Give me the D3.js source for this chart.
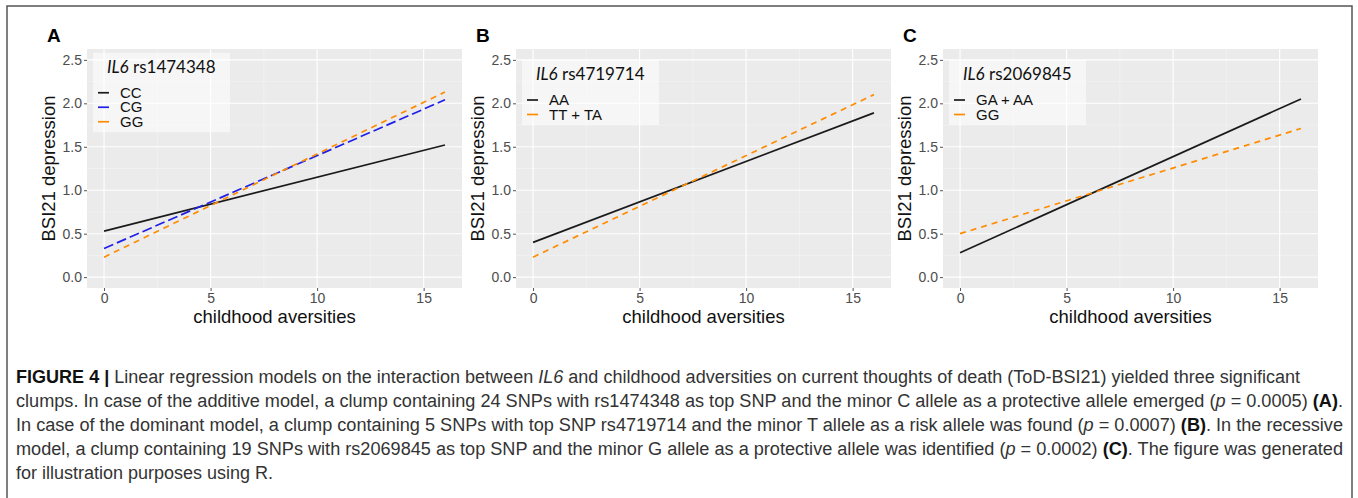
<!DOCTYPE html>
<html>
<head>
<meta charset="utf-8">
<script src="https://cdn.jsdelivr.net/npm/d3@7"></script>
<style>
  body { margin: 0; background: #fff; }
  svg { display: block; }
</style>
</head>
<body>
<svg id="fig" width="1358" height="498"></svg>
<script>
// data
var panelLabels = ["A", "B", "C"]
var snpNames = ["rs1474348", "rs4719714", "rs2069845"]
var xEnds = [0, 16]
var xTicks = [0, 5, 10, 15]
var yTicks = [0, 0.5, 1, 1.5, 2, 2.5]

var groupsA = ["CC", "CG", "GG"]
var startA = [0.53, 0.33, 0.23]
var endA = [1.52, 2.04, 2.13]

var groupsB = ["AA", "TT + TA"]
var startB = [0.40, 0.23]
var endB = [1.89, 2.10]

var groupsC = ["GA + AA", "GG"]
var startC = [0.28, 0.50]
var endC = [2.05, 1.71]

var styleA = ["solid", "longdash", "dashed"]
var styleB = ["solid", "dashed"]
var styleC = ["solid", "dashed"]
var colorA = ["#1a1a1a", "#1f1fe8", "#ff8c00"]
var colorB = ["#1a1a1a", "#ff8c00"]
var colorC = ["#1a1a1a", "#ff8c00"]

var captionLines = [
  [["b", "FIGURE 4 | "], ["n", "Linear regression models on the interaction between "], ["i", "IL6"], ["n", " and childhood adversities on current thoughts of death (ToD-BSI21) yielded three significant"]],
  [["n", "clumps. In case of the additive model, a clump containing 24 SNPs with rs1474348 as top SNP and the minor C allele as a protective allele emerged ("], ["i", "p"], ["n", " = 0.0005) "], ["b", "(A)"], ["n", "."]],
  [["n", "In case of the dominant model, a clump containing 5 SNPs with top SNP rs4719714 and the minor T allele as a risk allele was found ("], ["i", "p"], ["n", " = 0.0007) "], ["b", "(B)"], ["n", ". In the recessive"]],
  [["n", "model, a clump containing 19 SNPs with rs2069845 as top SNP and the minor G allele as a protective allele was identified ("], ["i", "p"], ["n", " = 0.0002) "], ["b", "(C)"], ["n", ". The figure was generated"]],
  [["n", "for illustration purposes using R."]]
]
var captionWidths = [1284, 1327, 1327, 1327, null]

var panels = [
  { label: panelLabels[0], snp: snpNames[0], groups: groupsA, start: startA, end: endA, styles: styleA, colors: colorA, left: 87 },
  { label: panelLabels[1], snp: snpNames[1], groups: groupsB, start: startB, end: endB, styles: styleB, colors: colorB, left: 516 },
  { label: panelLabels[2], snp: snpNames[2], groups: groupsC, start: startC, end: endC, styles: styleC, colors: colorC, left: 943 }
]

var dashes = { solid: null, dashed: "6,5", longdash: "10,4" }

var plotTop = 49, plotHeight = 239, plotWidth = 375
var svg = d3.select("#fig")

// outer frame
svg.append("rect")
  .attr("x", 7).attr("y", 6)
  .attr("width", 1345).attr("height", 520)
  .attr("fill", "none")
  .attr("stroke", "#555")
  .attr("stroke-width", 1.5)

panels.forEach(function(p){
  var x = d3.scaleLinear().domain([-0.8, 16.8]).range([p.left, p.left + plotWidth])
  var y = d3.scaleLinear().domain([-0.125, 2.625]).range([plotTop + plotHeight, plotTop])

  var g = svg.append("g")

  g.append("rect")
    .attr("x", p.left).attr("y", plotTop)
    .attr("width", plotWidth).attr("height", plotHeight)
    .attr("fill", "#ebebeb")

  // minor grid
  var xMinor = [2.5, 7.5, 12.5]
  var yMinor = [0.25, 0.75, 1.25, 1.75, 2.25]
  g.selectAll(".xminor").data(xMinor).enter().append("line")
    .attr("x1", function(d){ return x(d) }).attr("x2", function(d){ return x(d) })
    .attr("y1", plotTop).attr("y2", plotTop + plotHeight)
    .attr("stroke", "#f5f5f5").attr("stroke-width", 0.6)
  g.selectAll(".yminor").data(yMinor).enter().append("line")
    .attr("x1", p.left).attr("x2", p.left + plotWidth)
    .attr("y1", function(d){ return y(d) }).attr("y2", function(d){ return y(d) })
    .attr("stroke", "#f5f5f5").attr("stroke-width", 0.6)

  // major grid
  g.selectAll(".xmajor").data(xTicks).enter().append("line")
    .attr("x1", function(d){ return x(d) }).attr("x2", function(d){ return x(d) })
    .attr("y1", plotTop).attr("y2", plotTop + plotHeight)
    .attr("stroke", "#fff").attr("stroke-width", 1.1)
  g.selectAll(".ymajor").data(yTicks).enter().append("line")
    .attr("x1", p.left).attr("x2", p.left + plotWidth)
    .attr("y1", function(d){ return y(d) }).attr("y2", function(d){ return y(d) })
    .attr("stroke", "#fff").attr("stroke-width", 1.1)

  // axes
  var yAxis = d3.axisLeft(y).tickValues(yTicks).tickFormat(d3.format(".1f")).tickSize(3).tickPadding(2)
  var xAxis = d3.axisBottom(x).tickValues(xTicks).tickSize(3).tickPadding(2)

  var ya = g.append("g").attr("transform", "translate(" + p.left + ",0)").call(yAxis)
  var xa = g.append("g").attr("transform", "translate(0," + (plotTop + plotHeight) + ")").call(xAxis)
  ;[ya, xa].forEach(function(a){
    a.select(".domain").remove()
    a.selectAll("line").attr("stroke", "#555")
    a.selectAll("text")
      .attr("fill", "#4d4d4d")
      .style("font-family", "Liberation Sans, Arial, sans-serif")
      .style("font-size", "14px")
  })

  g.append("text")
    .attr("x", x(8)).attr("y", 323)
    .attr("text-anchor", "middle")
    .style("font-family", "Liberation Sans, Arial, sans-serif")
    .style("font-size", "18.5px")
    .attr("fill", "#111")
    .text("childhood aversities")

  g.append("text")
    .attr("transform", "translate(" + (p.left - 32) + "," + y(1.25) + ") rotate(-90)")
    .attr("text-anchor", "middle")
    .style("font-family", "Liberation Sans, Arial, sans-serif")
    .style("font-size", "18.5px")
    .attr("fill", "#111")
    .text("BSI21 depression")

  g.append("text")
    .attr("x", p.left - 40).attr("y", 42)
    .style("font-family", "Liberation Sans, Arial, sans-serif")
    .style("font-size", "19px")
    .style("font-weight", "bold")
    .text(p.label)

  // regression lines
  var lines = p.groups.map(function(name, i){
    return { name: name, pts: [[xEnds[0], p.start[i]], [xEnds[1], p.end[i]]], color: p.colors[i], style: p.styles[i] }
  })
  var lineGen = d3.line().x(function(d){ return x(d[0]) }).y(function(d){ return y(d[1]) })
  g.selectAll(".fit").data(lines).enter().append("path")
    .attr("d", function(d){ return lineGen(d.pts) })
    .attr("fill", "none")
    .attr("stroke", function(d){ return d.color })
    .attr("stroke-width", 1.7)
    .attr("stroke-dasharray", function(d){ return dashes[d.style] })

  // legend
  var n = p.groups.length
  var legH = 36 + n * 14.5
  var legTop = 92.5 - legH / 2
  var legLeft = p.left + 6
  var leg = g.append("g")
  leg.append("rect")
    .attr("x", legLeft).attr("y", legTop)
    .attr("width", 137).attr("height", legH)
    .attr("fill", "#fff").attr("fill-opacity", 0.55)
  var title = leg.append("text")
    .attr("x", legLeft + 14).attr("y", legTop + 20)
    .style("font-family", "Lato, Open Sans, sans-serif")
    .style("font-size", "17px")
    .attr("fill", "#111")
  title.append("tspan").style("font-style", "italic").text("IL6")
  title.append("tspan").text(" " + p.snp)

  lines.forEach(function(d, i){
    var cy = legTop + 40 + i * 14.5
    leg.append("line")
      .attr("x1", legLeft + 5).attr("x2", legLeft + 16)
      .attr("y1", cy).attr("y2", cy)
      .attr("stroke", d.color).attr("stroke-width", 1.7)
    leg.append("text")
      .attr("x", legLeft + 27).attr("y", cy + 5)
      .style("font-family", "Liberation Sans, Arial, sans-serif")
      .style("font-size", "15px")
      .attr("fill", "#111")
      .text(d.name)
  })
})

// caption
captionLines.forEach(function(line, i){
  var t = svg.append("text")
    .attr("x", 16).attr("y", 383 + i * 24)
    .style("font-family", "Liberation Sans, Arial, sans-serif")
    .style("font-size", "18px")
    .attr("fill", "#333")
  if (captionWidths[i]) t.attr("textLength", captionWidths[i]).attr("lengthAdjust", "spacingAndGlyphs")
  line.forEach(function(seg){
    var s = t.append("tspan").text(seg[1])
    if (seg[0] == "b") s.style("font-weight", "bold").attr("fill", "#111")
    if (seg[0] == "i") s.style("font-style", "italic")
  })
})
</script>
</body>
</html>
